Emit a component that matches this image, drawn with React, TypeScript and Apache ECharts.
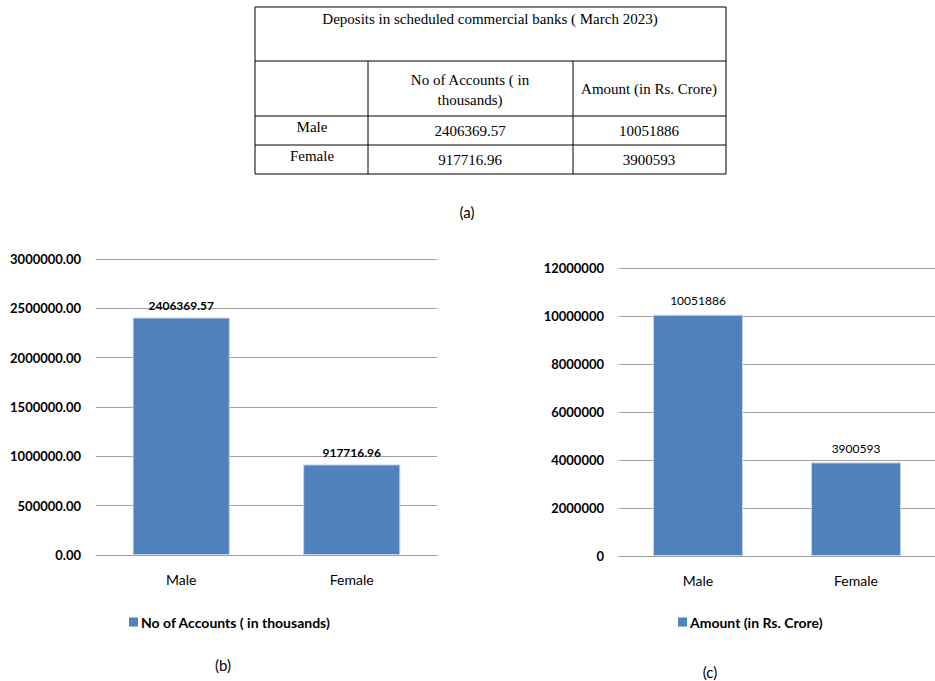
import React, { useEffect, useRef } from "react";
import * as echarts from "echarts";

const categories = ["Male", "Female"];
const accountsSeriesName = "No of Accounts ( in thousands)";
const amountSeriesName = "Amount (in Rs. Crore)";
const accountsValues = [2406369.57, 917716.96];
const amountValues = [10051886, 3900593];
const tableTitle = "Deposits in scheduled commercial banks ( March 2023)";
const tableHeaderAccounts = ["No of Accounts ( in", "thousands)"];
const tableHeaderAmount = "Amount (in Rs. Crore)";
const accountsLabels = ["2406369.57", "917716.96"];
const amountLabels = ["10051886", "3900593"];

const BAR = "#4f81bd";
const GRID_LINE = "#a0a0a0";
const SANS = "Lato, 'Open Sans', sans-serif";
const SERIF = "'Liberation Serif', 'DejaVu Serif', serif";

function tableGraphics() {
  const L = 255, R = 726, T = 7, B = 174;
  const rows = [61, 116, 145];
  const cols = [368, 573];
  const els: any[] = [];
  const ln = (x1: number, y1: number, x2: number, y2: number) =>
    els.push({
      type: "line",
      shape: { x1, y1, x2, y2 },
      style: { stroke: "#000", lineWidth: 1 },
    });
  ln(L, T, R, T);
  ln(L, B, R, B);
  ln(L, T, L, B);
  ln(R, T, R, B);
  rows.forEach((y) => ln(L, y, R, y));
  cols.forEach((x) => ln(x, rows[0], x, B));
  const txt = (text: string, x: number, y: number) =>
    els.push({
      type: "text",
      x,
      y,
      style: {
        text,
        fontFamily: SERIF,
        fontSize: 15,
        fill: "#000",
        align: "center",
        verticalAlign: "middle",
      },
    });
  txt(tableTitle, 490, 19);
  txt(tableHeaderAccounts[0], 470, 80);
  txt(tableHeaderAccounts[1], 470, 100);
  txt(tableHeaderAmount, 649, 89);
  txt(categories[0], 312, 127);
  txt(categories[1], 312, 156);
  txt(accountsLabels[0], 470, 131);
  txt(accountsLabels[1], 470, 160);
  txt(amountLabels[0], 649, 131);
  txt(amountLabels[1], 649, 160);
  const cap = (text: string, x: number, y: number) =>
    els.push({
      type: "text",
      x,
      y,
      style: {
        text,
        fontFamily: SANS,
        fontSize: 15,
        fill: "#000",
        align: "center",
        verticalAlign: "middle",
      },
    });
  cap("(a)", 467, 212);
  cap("(b)", 223, 665);
  cap("(c)", 710, 672);
  return els;
}

export default function App() {
  const ref = useRef<HTMLDivElement>(null);
  useEffect(() => {
    document.body.style.margin = "0";
    const chart = echarts.init(ref.current!, null, { renderer: "svg" });
    const valueAxis = (gridIndex: number, max: number, interval: number, fmt: (v: number) => string) => ({
      type: "value",
      gridIndex,
      min: 0,
      max,
      interval,
      axisLine: { show: false },
      axisTick: { show: false },
      splitLine: { lineStyle: { color: GRID_LINE, width: 1 } },
      axisLabel: {
        margin: 15,
        fontFamily: SANS,
        fontSize: 13,
        fontWeight: "bold",
        color: "#000",
        formatter: fmt,
      },
    });
    const catAxis = (gridIndex: number) => ({
      type: "category",
      gridIndex,
      data: categories,
      axisLine: { lineStyle: { color: GRID_LINE } },
      axisTick: { show: false },
      axisLabel: { margin: 17, fontFamily: SANS, fontSize: 14, color: "#000" },
    });
    const legendText = { fontFamily: SANS, fontSize: 14, fontWeight: "bold", color: "#000", padding: [0, 0, 0, -2] };
    chart.setOption({
      animation: false,
      backgroundColor: "#fff",
      grid: [
        { left: 96, right: 498, top: 259, bottom: 126, containLabel: false },
        { left: 619, right: -10, top: 268, bottom: 125, containLabel: false },
      ],
      xAxis: [catAxis(0), catAxis(1)],
      yAxis: [
        valueAxis(0, 3000000, 500000, (v: number) => v.toFixed(2)),
        valueAxis(1, 12000000, 2000000, (v: number) => String(v)),
      ],
      legend: [
        {
          data: [accountsSeriesName],
          left: 124,
          top: 610,
          itemWidth: 9,
          itemHeight: 9,
          icon: "rect",
          itemStyle: { borderWidth: 0 },
          textStyle: legendText,
        },
        {
          data: [amountSeriesName],
          left: 673,
          top: 610,
          itemWidth: 9,
          itemHeight: 9,
          icon: "rect",
          itemStyle: { borderWidth: 0 },
          textStyle: legendText,
        },
      ],
      series: [
        {
          name: accountsSeriesName,
          type: "bar",
          xAxisIndex: 0,
          yAxisIndex: 0,
          data: accountsValues,
          barWidth: "57%",
          itemStyle: { color: BAR, borderColor: "#c5d5ea", borderWidth: 1 },
          label: {
            show: true,
            position: "top",
            distance: 6,
            fontFamily: SANS,
            fontSize: 12,
            fontWeight: "bold",
            color: "#000",
            formatter: (p: any) => accountsLabels[p.dataIndex],
          },
        },
        {
          name: amountSeriesName,
          type: "bar",
          xAxisIndex: 1,
          yAxisIndex: 1,
          data: amountValues,
          barWidth: "57%",
          itemStyle: { color: BAR, borderColor: "#c5d5ea", borderWidth: 1 },
          label: {
            show: true,
            position: "top",
            distance: 8,
            fontFamily: SANS,
            fontSize: 12,
            color: "#000",
            formatter: (p: any) => amountLabels[p.dataIndex],
          },
        },
      ],
      graphic: tableGraphics(),
    });
    return () => chart.dispose();
  }, []);
  return (
    <div
      ref={ref}
      style={{ position: "absolute", left: 0, top: 0, width: 935, height: 681 }}
    />
  );
}
